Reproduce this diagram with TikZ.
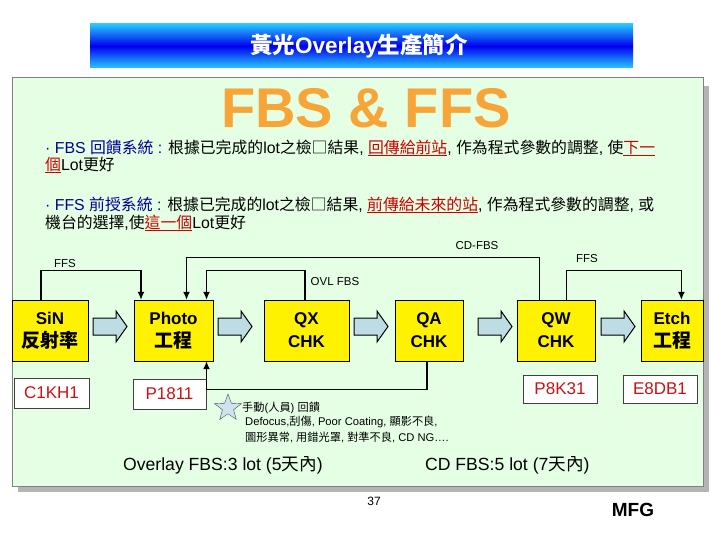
\documentclass[tikz,border=0pt]{standalone}
\usepackage{fontspec}
\setmainfont{Liberation Sans}
\newfontfamily\cjk{Noto Sans CJK TC}
\usetikzlibrary{arrows,arrows.meta,shapes.geometric}

\definecolor{panelgreen}{RGB}{229,255,229}
\definecolor{shadowgray}{RGB}{180,180,180}
\definecolor{bordergray}{RGB}{128,128,128}
\definecolor{barcyan}{RGB}{40,200,255}
\definecolor{barblue}{RGB}{0,0,240}
\definecolor{fbsorange}{RGB}{247,165,54}
\definecolor{fbsblue}{RGB}{0,0,150}
\definecolor{ulred}{RGB}{204,0,0}
\definecolor{lotred}{RGB}{200,20,20}
\definecolor{arrowblue}{RGB}{190,220,228}
\definecolor{starblue}{RGB}{205,228,240}

\newcommand\zh[1]{{\cjk #1}}
\newcommand\redline[1]{\textcolor{ulred}{\setbox0\hbox{#1}\rlap{\rule[-3pt]{\wd0}{1.6pt}}\box0}}

\tikzset{
  stage/.style={draw=black,fill=yellow,minimum height=61,inner sep=0pt,align=center,
    font=\bfseries\fontsize{17}{23}\selectfont},
  lotbox/.style={draw=black!75,fill=white,text=lotred,inner sep=0pt,
    font=\fontsize{17}{19}\selectfont},
  link/.style={-{Latex[length=8pt,width=7pt]},line width=1.3pt},
  tag/.style={font=\fontsize{11.5}{13}\selectfont},
  bullet/.style={anchor=west,inner sep=0pt,font=\fontsize{15.85}{18}\selectfont},
  note/.style={anchor=west,inner sep=0pt,font=\fontsize{11.2}{13}\selectfont}
}

\begin{document}
\begin{tikzpicture}[x=1pt,y=-1pt]
\useasboundingbox (0,0) rectangle (720,540);

% title bar
\shade[top color=barcyan,bottom color=barcyan,middle color=barblue] (90,24) rectangle (633,68);
\node[text=white,font=\bfseries\fontsize{22.5}{24}\selectfont] (title) at (359,46)
  {\zh{黃光}Overlay\zh{生產簡介}};

% panel
\fill[shadowgray] (18,86) rectangle (709,492);
\draw[bordergray,fill=panelgreen,line width=1pt] (12,78) rectangle (703,486);

\node[text=fbsorange,font=\bfseries\fontsize{56}{60}\selectfont] (head) at (366,108) {FBS \& FFS};

% bullets
\node[bullet] (fbs1) at (45,148) {\textcolor{fbsblue}{· FBS \zh{回饋系統} :} \zh{根據已完成的}lot\zh{之檢□結果}, \redline{\zh{回傳給前站}}, \zh{作為程式參數的調整}, \zh{使}\redline{\zh{下一}}};
\node[bullet] (fbs2) at (45,165) {\redline{\zh{個}}Lot\zh{更好}};
\node[bullet] (ffs1) at (45,205) {\textcolor{fbsblue}{· FFS \zh{前授系統} :} \zh{根據已完成的}lot\zh{之檢□結果}, \redline{\zh{前傳給未來的站}}, \zh{作為程式參數的調整}, \zh{或}};
\node[bullet] (ffs2) at (45,223) {\zh{機台的選擇},\zh{使}\redline{\zh{這一個}}Lot\zh{更好}};

% stages
\node[stage,minimum width=76] (sin) at (50,330.5) {SiN\\\zh{\fontsize{19}{23}\selectfont 反射率}};
\node[stage,minimum width=79] (photo) at (173.5,330.5) {Photo\\\zh{\fontsize{19}{23}\selectfont 工程}};
\node[stage,minimum width=85] (qx) at (306.5,330.5) {QX\\CHK};
\node[stage,minimum width=68] (qa) at (429,330.5) {QA\\CHK};
\node[stage,minimum width=78] (qw) at (556,330.5) {QW\\CHK};
\node[stage,minimum width=62] (etch) at (672,330.5) {Etch\\\zh{\fontsize{19}{23}\selectfont 工程}};

\foreach \xs in {93,218,354,478,601}
  \draw[fill=arrowblue,line width=1pt] (\xs,318) -- (\xs+23,318) -- (\xs+23,311) -- (\xs+34,326.5)
    -- (\xs+23,342) -- (\xs+23,335) -- (\xs,335) -- cycle;

% lots
\node[lotbox,minimum width=75,minimum height=30] (c1kh1) at (51.5,393) {C1KH1};
\node[lotbox,minimum width=73,minimum height=30] (p1811) at (169.5,394) {P1811};
\node[lotbox,minimum width=74,minimum height=28] (p8k31) at (560,389) {P8K31};
\node[lotbox,minimum width=74,minimum height=28] (e8db1) at (660,389) {E8DB1};

% feedback / feed-forward lines
\draw[link] ([xshift=-9]sin.north) -- ++(0,-29) -| ([xshift=-32.5]photo.north);
\draw[link] ([xshift=-16.3]qw.north) -- ++(0,-42) -| ([xshift=13]photo.north);
\draw[link] ([xshift=-1.5]qx.north) -- ++(0,-29) -| ([xshift=33]photo.north);
\draw[link] ([xshift=10.4]qw.north) -- ++(0,-29) -| ([xshift=9.4]etch.north);
\draw[link] ([xshift=-2]qa.south) -- ++(0,28.5) -| ([xshift=33]photo.south);

\node[tag] (ffsl) at (65,264) {FFS};
\node[tag] (cdfbs) at (477,246) {CD-FBS};
\node[tag] (ovl) at (335,282) {OVL FBS};
\node[tag] (ffsr) at (587,259) {FFS};

% manual feedback note
\node[star,star points=5,star point ratio=2.4,draw=black!70,fill=starblue,
  minimum size=28,inner sep=0pt] (star) at (228,408) {};
\node[note] (n1) at (242,408) {\zh{手動}(\zh{人員}) \zh{回饋}};
\node[note] (n2) at (245,422) {Defocus,\zh{刮傷}, Poor Coating, \zh{顯影不良},};
\node[note] (n3) at (245,437) {\zh{圖形異常}, \zh{用錯光罩}, \zh{對準不良}, CD NG….};

\node[font=\fontsize{17.6}{19}\selectfont,anchor=west,inner sep=0pt] (ovlsum) at (123,465)
  {Overlay FBS:3 lot (5\zh{天內})};
\node[font=\fontsize{17.6}{19}\selectfont,anchor=west,inner sep=0pt] (cdsum) at (425,465)
  {CD FBS:5 lot (7\zh{天內})};

\node[font=\fontsize{12}{14}\selectfont] (page) at (374,501) {37};
\node[font=\bfseries\fontsize{19}{21}\selectfont] (mfg) at (633,510) {MFG};
\end{tikzpicture}
\end{document}
